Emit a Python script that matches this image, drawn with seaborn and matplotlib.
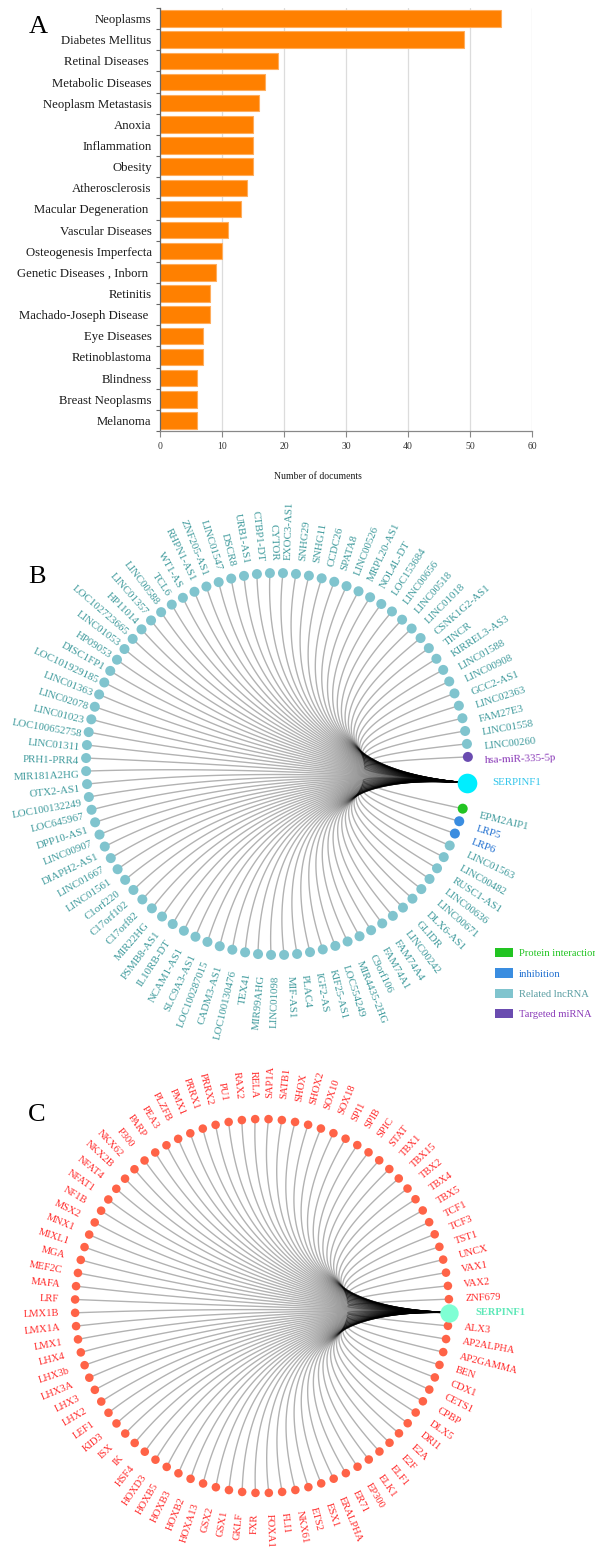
import numpy as np
import pandas as pd
import matplotlib
matplotlib.use("Agg")
import matplotlib.pyplot as plt
from matplotlib.collections import LineCollection
from matplotlib.patches import Patch
import seaborn as sns

# ---------------- data ----------------
diseases = ["Neoplasms", "Diabetes Mellitus", "Retinal Diseases ", "Metabolic Diseases",
            "Neoplasm Metastasis", "Anoxia", "Inflammation", "Obesity", "Atherosclerosis",
            "Macular Degeneration ", "Vascular Diseases", "Osteogenesis Imperfecta",
            "Genetic Diseases , Inborn ", "Retinitis", "Machado-Joseph Disease ",
            "Eye Diseases", "Retinoblastoma", "Blindness", "Breast Neoplasms", "Melanoma"]
documents = [55, 49, 19, 17, 16, 15, 15, 15, 14, 13, 11, 10, 9, 8, 8, 7, 7, 6, 6, 6]
x_ticks = [0, 10, 20, 30, 40, 50, 60]

hub_name = "SERPINF1"

# panel B: nodes clockwise from the hub
b_names = ["EPM2AIP1", "LRP5", "LRP6", "LINC01563", "LINC00482", "RUSC1-AS1", "LINC00636",
           "LINC00671", "DLX6-AS1", "GLIDR", "LINC00242", "FAM74A4", "FAM74A1", "C9orf106",
           "MIR4435-2HG", "LOC554249", "KIF25-AS1", "IGF2-AS", "PLAC4", "MIF-AS1", "LINC01098",
           "MIR99AHG", "TEX41", "LOC100130476", "CADM3-AS1", "LOC100287015", "SLC9A3-AS1",
           "NCAM1-AS1", "IL10RB-DT", "PSMB8-AS1", "MIR22HG", "C17orf82", "C17orf102", "C1orf220",
           "LINC01561", "LINC01667", "DIAPH2-AS1", "LINC00907", "DPP10-AS1", "LOC645967",
           "LOC100132249", "OTX2-AS1", "MIR181A2HG", "PRH1-PRR4", "LINC01311", "LOC100652758",
           "LINC01023", "LINC02078", "LINC01363", "LOC101929185", "DISC1FP1", "HP09053",
           "LINC01053", "LOC102723665", "HP11014", "LINC01357", "LINC00588", "TCL6", "WT1-AS",
           "RHPN1-AS1", "ZNF205-AS1", "LINC01547", "DSCR8", "URB1-AS1", "CTBP1-DT", "CYTOR",
           "EXOC3-AS1", "SNHG29", "SNHG11", "CCDC26", "SPATA8", "LINC00526", "MRPL20-AS1",
           "NOL4L-DT", "LOC153684", "LINC00656", "LINC00518", "LINC01018", "CSNK1G2-AS1", "TINCR",
           "KIRREL3-AS3", "LINC01588", "LINC00908", "GCC2-AS1", "LINC02363", "FAM27E3",
           "LINC01558", "LINC00260", "hsa-miR-335-5p"]
b_types = ["Protein interaction", "inhibition", "inhibition"] + ["Related lncRNA"] * 85 + ["Targeted miRNA"]
legend_labels = ["Protein interaction", "inhibition", "Related lncRNA", "Targeted miRNA"]

# panel C: nodes clockwise from the hub
c_names = ["ALX3", "AP2ALPHA", "AP2GAMMA", "BEN", "CDX1", "CETS1", "CPBP", "DLX5", "DRI1", "E2A",
           "E2F", "ELF1", "ELK1", "EP300", "ER71", "ERALPHA", "ESX1", "ETS2", "NKX61", "FLI1",
           "FOXA1", "FXR", "GKLF", "GSX1", "GSX2", "HOXA13", "HOXB2", "HOXB3", "HOXB5", "HOXD3",
           "HSF4", "IK", "ISX", "KID3", "LEF1", "LHX2", "LHX3", "LHX3A", "LHX3b", "LHX4", "LMX1",
           "LMX1A", "LMX1B", "LRF", "MAFA", "MEF2C", "MGA", "MIXL1", "MNX1", "MSX2", "NF1B",
           "NFAT1", "NFAT4", "NKX2B", "NKX62", "P300", "PARP", "PEA3", "PLZFB", "PMX1", "PRRX1",
           "PRRX2", "PU1", "RAX2", "RELA", "SAP1A", "SATB1", "SHOX", "SHOX2", "SOX10", "SOX18",
           "SPI1", "SPIB", "SPIC", "STAT", "TBX1", "TBX15", "TBX2", "TBX4", "TBX5", "TCF1", "TCF3",
           "TST1", "UNCX", "VAX1", "VAX2", "ZNF679"]

# ---------------- style ----------------
sns.set_theme(style="white")
plt.rcParams["font.family"] = ["Liberation Serif", "DejaVu Serif"]

W, H = 595, 1547
fig = plt.figure(figsize=(W / 100, H / 100), dpi=100)


def rect(x0, y0, x1, y1):
    return [x0 / W, 1 - y1 / H, (x1 - x0) / W, (y1 - y0) / H]


# overlay axes in pixel coordinates for the two networks
axN = fig.add_axes([0, 0, 1, 1])
axN.set_xlim(0, W)
axN.set_ylim(H, 0)
axN.axis("off")
axN.patch.set_alpha(0)

# ---------------- panel A ----------------
AX0, AX1, AY0, AY1 = 160, 532, 8, 431
axA = fig.add_axes(rect(AX0, AY0, AX1, AY1))
dfA = pd.DataFrame({"disease": diseases, "documents": documents})
sns.barplot(data=dfA, x="documents", y="disease", color="#ff8000", saturation=1,
            width=0.78, edgecolor="#ffad5c", linewidth=0.8, errorbar=None, ax=axA)
axA.set_xlim(0, 60)
axA.set_xticks(x_ticks)
axA.set_xticklabels([str(v) for v in x_ticks], fontsize=7, color="#333333")
axA.set_yticks(range(len(diseases)))
axA.set_yticklabels(diseases, fontsize=9.2, color="#1a1a1a")
axA.set_yticks(np.arange(-0.5, len(diseases), 1), minor=True)
axA.tick_params(axis="y", which="major", length=0, pad=6)
axA.tick_params(axis="y", which="minor", length=3, color="#666666", width=0.8, direction="out", left=True)
axA.tick_params(axis="x", which="major", length=4, color="#888888", width=0.8, direction="out", bottom=True, pad=4)
axA.set_ylim(len(diseases) - 0.5, -0.5)
axA.grid(axis="x", color="#dcdcdc", linewidth=0.9)
axA.set_axisbelow(True)
for s in ["top", "right"]:
    axA.spines[s].set_visible(False)
axA.spines["left"].set_color("#666666")
axA.spines["left"].set_linewidth(0.9)
axA.spines["bottom"].set_color("#888888")
axA.spines["bottom"].set_linewidth(0.9)
axA.set_ylabel("")
axA.set_xlabel("Number of documents", fontsize=7, color="#1a1a1a")
axA.xaxis.set_label_coords((318 - AX0) / (AX1 - AX0), -(472 - AY1) / (AY1 - AY0))


# ---------------- networks ----------------
def draw_network(names, slots, nslots, theta0, cx, cy, r, node_col, label_col,
                 node_s, hub_s, hub_col, hub_lab_col, fs, gh, gv, off, hub_weight, hub_gap):
    th = np.deg2rad(theta0 - 360.0 * np.asarray(slots) / nslots)
    xs = cx + r * np.cos(th)
    ys = cy - r * np.sin(th)
    h = np.deg2rad(theta0)
    hx, hy = cx + r * np.cos(h), cy - r * np.sin(h)
    t = np.linspace(0, 1, 100)[:, None]
    P0 = np.array([hx, hy])
    C = np.array([cx - 0.08 * r, cy - 0.08 * r * np.sin(h)])
    segs = []
    for x, y in zip(xs, ys):
        P2 = np.array([x, y])
        segs.append((1 - t) ** 2 * P2 + 2 * t * (1 - t) * C + t ** 2 * P0)
    axN.add_collection(LineCollection(segs, colors=[(0, 0, 0, 0.3)], linewidths=1.0, zorder=1))
    dfn = pd.DataFrame({"x": xs, "y": ys, "c": node_col})
    sns.scatterplot(data=dfn, x="x", y="y", hue="c", palette={c: c for c in set(node_col)},
                    s=node_s, linewidth=0, legend=False, ax=axN, zorder=3)
    axN.scatter([hx], [hy], s=hub_s, color=hub_col, linewidths=0, zorder=4)
    axN.text(hx + hub_gap, hy, hub_name, color=hub_lab_col, fontsize=fs, fontweight=hub_weight,
             ha="left", va="center")
    for name, a, col in zip(names, th, label_col):
        deg = np.rad2deg(a)
        gap = gh + (gv - gh) * np.sin(a) ** 2
        lx = cx + (r + gap) * np.cos(a) + off[0]
        ly = cy - (r + gap) * np.sin(a) + off[1]
        if np.cos(a) >= -1e-9:
            rot, ha = deg, "left"
        else:
            rot, ha = deg + 180, "right"
        axN.text(lx, ly, name, rotation=rot, rotation_mode="anchor", ha=ha, va="center",
                 color=col, fontsize=fs)


b_node_pal = {"Protein interaction": "#22c422", "inhibition": "#3a8de0",
              "Related lncRNA": "#80c4ce", "Targeted miRNA": "#6a4cb0"}
b_lab_pal = {"Protein interaction": "#3e9a9c", "inhibition": "#1f6fd0",
             "Related lncRNA": "#3e9a9c", "Targeted miRNA": "#8a3ab8"}
b_slots = [i + 2 for i in range(len(b_names))]
draw_network(b_names, b_slots, 92, -5.7, 277, 764, 191,
             [b_node_pal[t] for t in b_types], [b_lab_pal[t] for t in b_types],
             52, 200, "#00eeff", "#2ec4ea", 7.8, 12, 17, (5, 4), "normal", 25)

c_slots = [i + 1 for i in range(len(c_names))]
draw_network(c_names, c_slots, 88, -2.0, 262, 1306, 187,
             ["#ff6347"] * len(c_names), ["#ff2a2a"] * len(c_names),
             38, 175, "#7fffd4", "#5ee8b8", 7.6, 16, 21, (0, 0), "bold", 27)

# legend for panel B
handles = [Patch(facecolor=b_node_pal[k], edgecolor="none") for k in legend_labels]
leg = axN.legend(handles, legend_labels, loc="upper left", bbox_to_anchor=(490 / W, 1 - 943 / H),
                 bbox_transform=fig.transFigure, frameon=False, fontsize=7.6, handlelength=1.7,
                 handleheight=0.95, labelspacing=0.95, handletextpad=0.55, borderpad=0)
for txt, k in zip(leg.get_texts(), legend_labels):
    txt.set_color({"Protein interaction": "#22c422", "inhibition": "#1f6fd0",
                   "Related lncRNA": "#5a9ea2", "Targeted miRNA": "#8a3ab8"}[k])

# panel letters
for letter, (px, py) in {"A": (38, 27), "B": (37, 577), "C": (37, 1115)}.items():
    axN.text(px, py, letter, fontsize=19, ha="center", va="center", color="black")

fig.savefig("out.png", dpi=100)
